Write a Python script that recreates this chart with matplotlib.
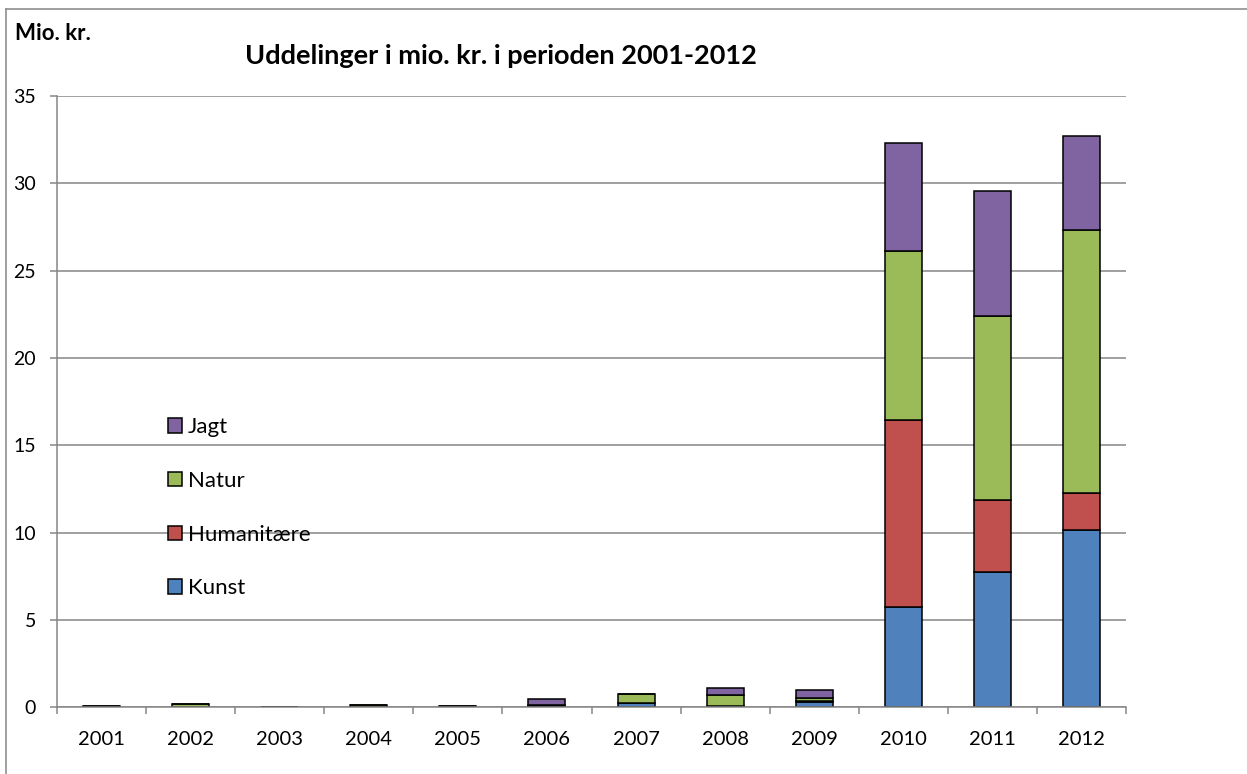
import matplotlib
matplotlib.use("Agg")
import matplotlib.pyplot as plt
from matplotlib.patches import Patch
from matplotlib.lines import Line2D
import numpy as np

years = ["2001", "2002", "2003", "2004", "2005", "2006", "2007", "2008", "2009", "2010", "2011", "2012"]
kunst = [0.02, 0.0, 0.0, 0.0, 0.02, 0.05, 0.27, 0.05, 0.30, 5.77, 7.74, 10.16]
humanitaere = [0.0, 0.0, 0.0, 0.0, 0.0, 0.05, 0.0, 0.02, 0.04, 10.68, 4.15, 2.10]
natur = [0.05, 0.17, 0.02, 0.13, 0.04, 0.03, 0.50, 0.64, 0.18, 9.70, 10.54, 15.09]
jagt = [0.0, 0.0, 0.0, 0.0, 0.0, 0.35, 0.0, 0.42, 0.49, 6.16, 7.15, 5.35]

series = [("Kunst", kunst, "#4F81BD"),
          ("Humanitære", humanitaere, "#C0504D"),
          ("Natur", natur, "#9BBB59"),
          ("Jagt", jagt, "#8064A2")]

plt.rcParams['font.family'] = ['Lato', 'DejaVu Sans']

fig = plt.figure(figsize=(12.47, 7.74), dpi=100)
ax = fig.add_axes([57/1247, 1 - 707.3/774, (1126 - 57)/1247, (707.3 - 96)/774])

x = np.arange(len(years))
bottom = np.zeros(len(years))
handles = []
for name, vals, col in series:
    v = np.array(vals)
    ax.bar(x, v, width=0.415, bottom=bottom, color=col, edgecolor="black",
           linewidth=1.1, zorder=3)
    bottom += v
    handles.append(Patch(facecolor=col, edgecolor="black", linewidth=1.1, label=name))

grid_col = "#868686"
ax.set_ylim(0, 35)
ax.set_xlim(-0.5, len(years) - 0.5)
ax.set_yticks(np.arange(0, 36, 5))
ax.yaxis.grid(True, color=grid_col, linewidth=1.1, zorder=0)
ax.set_axisbelow(True)

ax.set_xticks(np.arange(-0.5, len(years), 1.0))
ax.set_xticklabels([])
ax.set_xticks(x, minor=True)
ax.set_xticklabels(years, minor=True)
ax.tick_params(axis="x", which="major", length=5, width=1.1, color=grid_col, direction="out")
ax.tick_params(axis="x", which="minor", length=0, pad=17, labelsize=14.5)
ax.tick_params(axis="y", which="major", length=5, width=1.1, color=grid_col, direction="out",
               pad=10, labelsize=14)

for s in ["top", "right"]:
    ax.spines[s].set_visible(False)
for s in ["left", "bottom"]:
    ax.spines[s].set_color(grid_col)
    ax.spines[s].set_linewidth(1.1)
ax.spines["bottom"].set_zorder(4)

fig.text(501/1247, 1 - 56/774, "Uddelinger i mio. kr. i perioden 2001-2012", ha="center",
         va="center", fontsize=19.5, fontweight="bold")
fig.text(15/1247, 1 - 33/774, "Mio. kr.", ha="left", va="center", fontsize=16,
         fontweight="bold")

leg = fig.legend(handles=handles[::-1], loc="upper left",
                 bbox_to_anchor=(157/1247, 1 - 406/774), frameon=False,
                 fontsize=16, handlelength=0.63, handleheight=0.63,
                 handletextpad=0.25, labelspacing=1.52, borderpad=0)

# outer chart border (top and left edges visible)
fig.add_artist(Line2D([6/1247, 6/1247], [0, 1 - 9/774], transform=fig.transFigure,
                      color=grid_col, linewidth=1.1))
fig.add_artist(Line2D([6/1247, 1], [1 - 9/774, 1 - 9/774], transform=fig.transFigure,
                      color=grid_col, linewidth=1.1))

fig.savefig("out.png", dpi=100)
